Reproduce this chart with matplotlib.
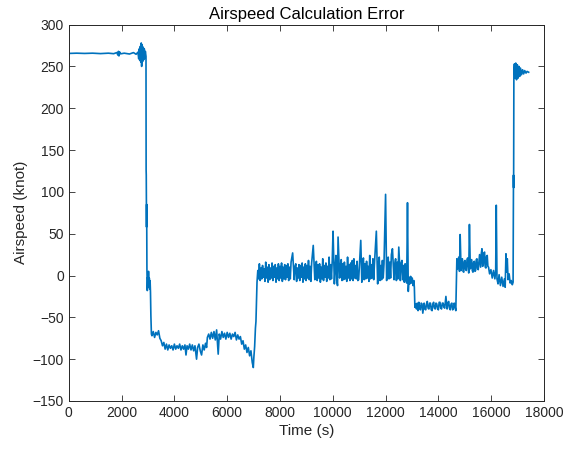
import matplotlib
matplotlib.use("Agg")
import matplotlib.pyplot as plt
import numpy as np

# airspeed error trace (time in s, error in knot)
cruise_t = [0, 300, 600, 900, 1200, 1500, 1700, 1820, 1860, 1880, 1900, 1920, 1960,
            2100, 2300, 2450, 2550, 2620, 2650, 2670, 2690, 2710, 2730, 2745, 2760,
            2780, 2800, 2820, 2840, 2860, 2880, 2900, 2915]
cruise_v = [265.5, 265.8, 265.5, 265.8, 265.3, 265.8, 265.2, 266.5, 263.5, 268, 262.5, 267.5, 265,
            265.8, 264.8, 266.5, 264.5, 267, 259, 271, 257, 274, 255, 278, 250,
            276, 256, 273, 258, 271, 260, 268, 264]

drop_t = [2925, 2930, 2935, 2940, 2945, 2950, 2955, 2960, 2975, 2990, 3005, 3020,
          3035, 3050, 3065, 3080, 3095, 3110]
drop_v = [262, 126, 120, 88, 58, 85, 50, 8, -18, -2, -14, 5,
          -10, -3, -16, -6, -20, -48]

low_t = [3130, 3150, 3200, 3250, 3300, 3350, 3400, 3450, 3500, 3550, 3600, 3650, 3700,
         3750, 3800, 3850, 3900, 3950, 4000, 4050, 4100, 4150, 4200, 4250, 4300, 4350,
         4400, 4440, 4480, 4530, 4580, 4630, 4680, 4730, 4780, 4840, 4880, 4930, 4980,
         5030, 5080, 5130, 5180, 5220, 5250, 5300, 5350, 5400, 5450, 5500, 5550, 5600,
         5660, 5700, 5750, 5800, 5850, 5900, 5950, 6000, 6050, 6100, 6150, 6200, 6250,
         6300, 6350, 6400, 6450, 6500, 6550, 6600, 6650, 6700, 6750, 6800, 6850, 6900,
         6950, 6990, 7010, 7040, 7070, 7090, 7110, 7130, 7160, 7190]
low_v = [-70, -72, -67, -74, -68, -71, -66, -75, -78, -84, -80, -88, -82,
         -89, -83, -87, -84, -89, -82, -88, -84, -87, -82, -89, -84, -88,
         -83, -95, -84, -88, -82, -89, -83, -90, -84, -100, -86, -82, -90,
         -95, -83, -89, -81, -86, -74, -70, -76, -68, -75, -67, -77, -65,
         -94, -70, -76, -67, -74, -69, -76, -68, -74, -69, -76, -70, -73,
         -68, -77, -71, -76, -73, -82, -78, -88, -83, -92, -86, -96, -90,
         -104, -110, -98, -85, -63, -55, -30, -8, 6, -4]

level_t = [7220, 7250, 7280, 7310, 7340, 7370, 7400, 7430, 7460, 7490, 7520, 7550,
           7580, 7610, 7640, 7670, 7700, 7730, 7760, 7790, 7820, 7850, 7880, 7910,
           7940, 7970, 8000, 8030, 8060, 8090, 8120, 8150, 8180, 8210, 8240, 8270,
           8300, 8330, 8360, 8390, 8420, 8480, 8540, 8570, 8600, 8630, 8660, 8690,
           8720, 8750, 8780, 8810, 8840, 8870, 8900, 8930, 8960, 8990, 9020, 9050,
           9080, 9110, 9140, 9170, 9200, 9260, 9320, 9350, 9380, 9410, 9440, 9470,
           9500, 9530, 9560, 9590, 9620, 9650, 9680, 9710, 9740, 9770, 9800, 9830,
           9860, 9890, 9920, 9950, 9980, 10010, 10060, 10090, 10120, 10150, 10180, 10200,
           10260, 10290, 10320, 10350, 10380, 10410, 10440, 10470, 10500, 10530, 10560, 10590,
           10620, 10650, 10680, 10710, 10740, 10770, 10800, 10830, 10860, 10890, 10920, 10950,
           10980, 11060, 11100, 11130, 11160, 11190, 11220, 11250, 11280, 11310, 11340, 11370,
           11400, 11430, 11460, 11490, 11520, 11550, 11580, 11650, 11700, 11730, 11760, 11790,
           11820, 11850, 11880, 11910, 11940, 12000, 12040, 12070, 12100, 12130, 12160, 12190,
           12220, 12260, 12320, 12350, 12380, 12410, 12440, 12470, 12500, 12560, 12590, 12620,
           12650, 12680, 12710, 12740, 12770, 12800, 12830, 12860]
level_v = [14, -6, 9, -4, 12, -2, 8, -7, 16, -3, 10, -8,
           13, -5, 9, -3, 15, -6, 11, -2, 13, -8, 9, -4,
           14, -6, 11, -3, 15, -7, 10, -4, 13, -5, 12, -2,
           14, -6, 10, -4, 16, 27, -5, 11, 14, -7, 9, -3,
           13, -6, 12, -2, 15, -8, 10, -4, 14, -6, 12, -3,
           18, -5, 11, -7, 15, 36, -5, 12, 17, -6, 13, -3,
           14, -8, 10, -4, 20, -6, 12, -2, 15, -7, 11, -3,
           22, -5, 13, -4, 18, 53, -10, 9, 24, -6, -12, 46,
           -3, 12, 19, -6, 14, -5, 16, -4, 11, -7, 22, -3,
           13, -6, 15, -4, 18, -6, 20, -3, 12, -4, 17, -6,
           -5, 42, -8, 12, 21, -5, 14, -4, 17, -3, 11, -7,
           24, -4, 13, -3, 20, -5, 15, 53, -10, 14, 22, -6,
           12, -5, 18, -3, 14, 97, -6, 13, 22, -4, 16, -3,
           25, 32, -5, 14, 20, -6, 16, -4, 34, -6, 15, 18,
           -5, 12, -8, 14, -4, -9, 87, -19]

step_t = [12890, 12920, 12950, 12980, 13010, 13040, 13070, 13090, 13110,
          13140, 13170, 13200, 13230, 13260, 13290, 13320, 13350, 13380, 13410, 13460,
          13490, 13520, 13550, 13580, 13610, 13640, 13670, 13700, 13730, 13760, 13790,
          13820, 13850, 13880, 13910, 13940, 13970, 14000, 14030, 14060, 14090, 14120,
          14150, 14180, 14210, 14240, 14285, 14330, 14360, 14390, 14420, 14450, 14480,
          14510, 14540, 14570, 14600, 14620, 14660]
step_v = [-2, -10, -1, -9, -3, -12, -6, -14, -38,
          -34, -40, -33, -42, -32, -39, -41, -33, -34, -45, -33,
          -40, -41, -34, -31, -39, -40, -33, -33, -41, -42, -34,
          -32, -39, -40, -33, -34, -40, -41, -32, -32, -39, -40,
          -33, -33, -38, -39, -25, -40, -33, -31, -39, -41, -34,
          -33, -41, -40, -33, -35, -42]

late_t = [14680, 14700, 14730, 14770, 14800, 14825, 14860, 14885, 14910, 14935, 14960,
          14985, 15010, 15035, 15060, 15085, 15110, 15150, 15176, 15210, 15235, 15260,
          15285, 15310, 15335, 15360, 15385, 15410, 15435, 15460, 15485, 15510, 15560,
          15600, 15625, 15650, 15675, 15700, 15725, 15750, 15775, 15800, 15825, 15850,
          15875, 15900, 15940, 15990, 16040, 16090, 16140, 16170, 16193, 16220, 16260,
          16300, 16350, 16400, 16450, 16500, 16530, 16560, 16580, 16610, 16640, 16680,
          16720, 16760, 16800, 16830]
late_v = [-10, 20, 8, 22, 5, 49, 6, 18, 20, 5, 4,
          17, 18, 7, 6, 19, 21, 3, 61, 8, 18, 19,
          6, 4, 16, 17, 5, 6, 19, 20, 8, 7, 25,
          10, 26, 32, 11, 12, 27, 28, 10, 9, 23, 24,
          11, 10, 2, 7, -3, 6, -4, 5, 84, -4, -10,
          1, -12, -2, -13, -4, -14, 26, 4, 20, -5, 2,
          -9, -6, -11, -8]

final_t = [16845, 16850, 16860, 16880, 16900, 16930, 16960, 16990, 17020, 17050,
           17080, 17110, 17150, 17190, 17230, 17270, 17320, 17360, 17420]
final_v = [120, 105, 245, 253, 236, 254, 234, 252, 236, 250,
           238, 248, 240, 246, 241, 245, 242, 244, 243]

x_ticks = list(range(0, 18001, 2000))
y_ticks = list(range(-150, 301, 50))


def main():
    t = np.concatenate([cruise_t, drop_t, low_t, level_t, step_t, late_t, final_t])
    v = np.concatenate([cruise_v, drop_v, low_v, level_v, step_v, late_v, final_v])

    plt.rcParams['font.family'] = ['Liberation Sans', 'DejaVu Sans']
    fig = plt.figure(figsize=(5.67, 4.55), dpi=100)
    ax = fig.add_axes([0.1213, 0.1187, 0.8381, 0.8273])

    ax.plot(t, v, color='#0072BD', linewidth=1.2)

    ax.set_xlim(0, 18000)
    ax.set_ylim(-150, 300)
    ax.set_xticks(x_ticks)
    ax.set_yticks(y_ticks)
    ax.tick_params(direction='in', top=True, right=True, length=4,
                   labelsize=10, colors='#262626', width=0.6)
    for s in ax.spines.values():
        s.set_color('#262626')
        s.set_linewidth(0.7)

    ax.set_title('Airspeed Calculation Error', fontsize=12, color='black', pad=4)
    ax.set_xlabel('Time (s)', fontsize=11, color='#262626', labelpad=3)
    ax.set_ylabel('Airspeed (knot)', fontsize=11, color='#262626', labelpad=3)

    fig.savefig('out.png', dpi=100, facecolor='white')


if __name__ == "__main__":
    main()
